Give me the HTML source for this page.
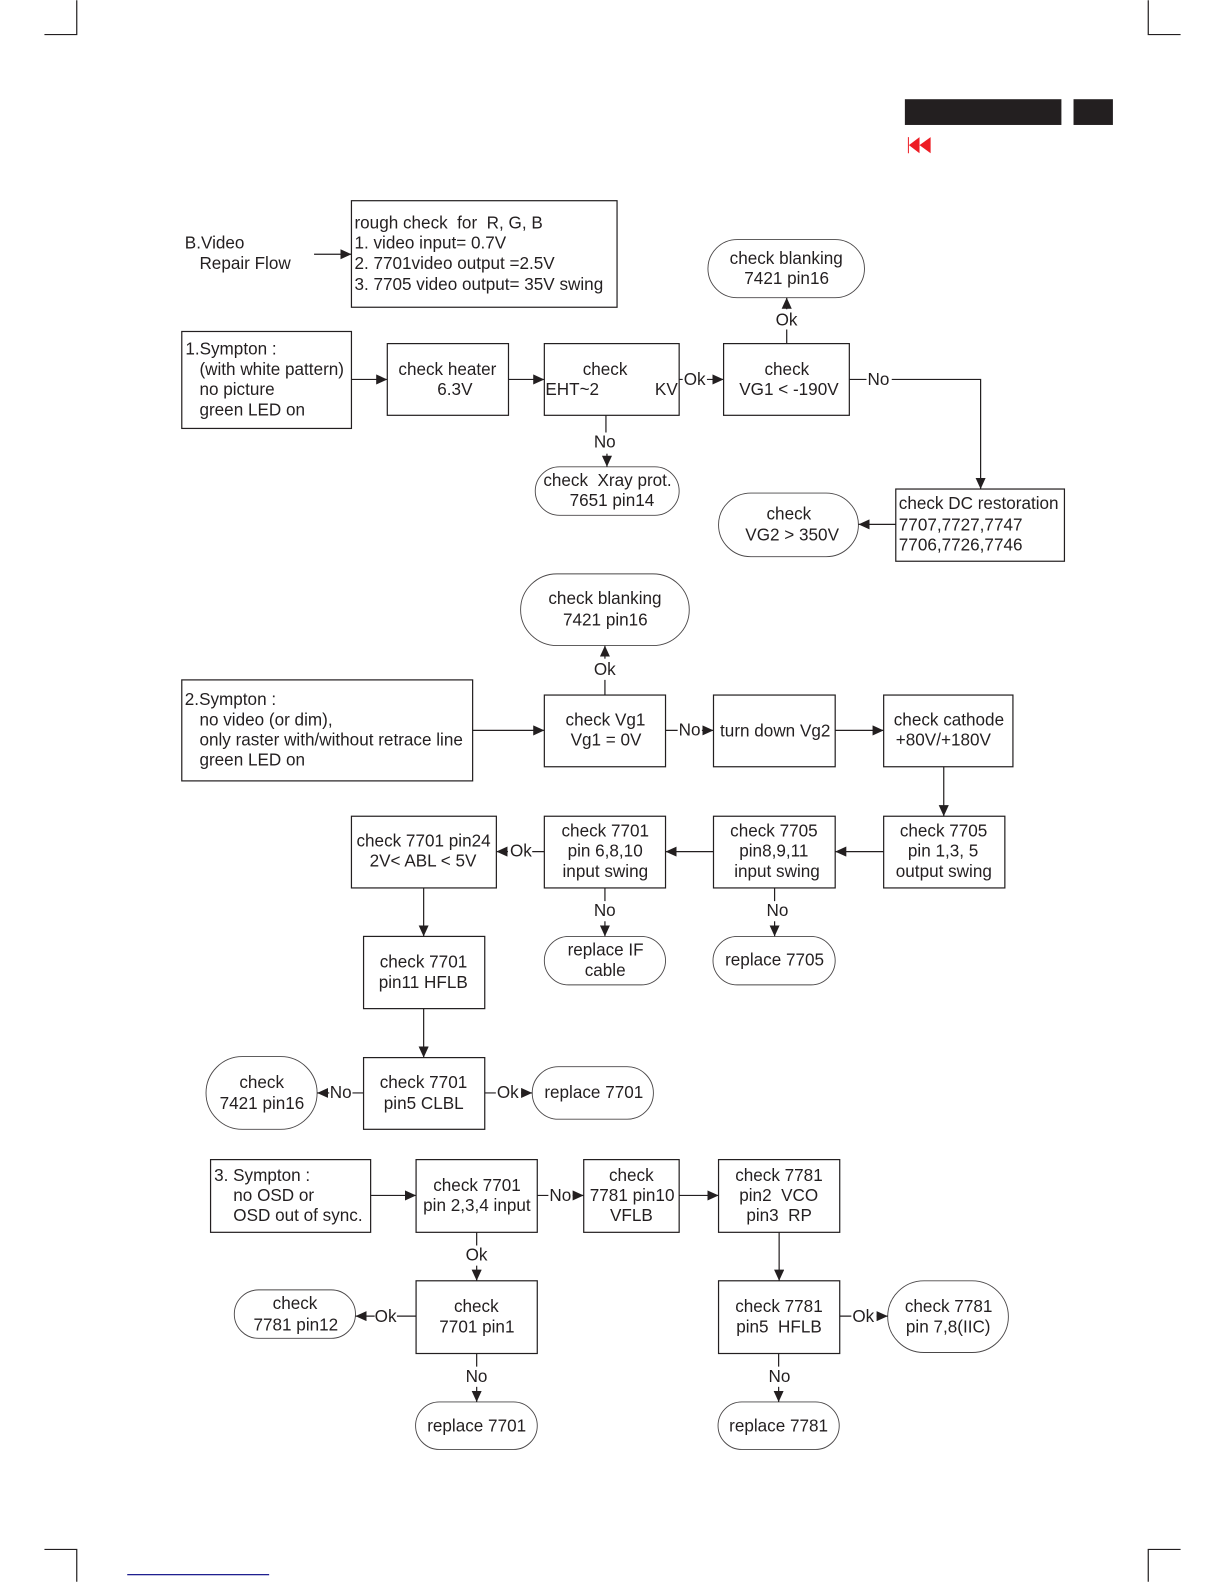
<!DOCTYPE html>
<html><head><meta charset="utf-8"><title>B.Video Repair Flow</title>
<style>
html,body{margin:0;padding:0;background:#fff;width:1224px;height:1584px;overflow:hidden}
svg{display:block}
text{font-family:"Liberation Sans",sans-serif;font-size:16.95px;fill:#231f20;white-space:pre}
.b{fill:#fff;stroke:#231f20;stroke-width:1.2}
.r{fill:#fff;stroke:#4a4748;stroke-width:.9}
.l{fill:none;stroke:#231f20;stroke-width:1.2}
</style></head><body>
<svg xmlns="http://www.w3.org/2000/svg" width="1224" height="1584" viewBox="0 0 1212 1568">
<defs><marker id="a" markerUnits="userSpaceOnUse" markerWidth="11" markerHeight="10" refX="11" refY="5" orient="auto"><path d="M0,0L11,5L0,10z" fill="#231f20"/></marker></defs>
<rect width="1212" height="1568" fill="#fff"/>
<!-- crop marks -->
<path class="l" d="M44,34H76V0M1137,0V34H1169M44,1534H76V1566M1169,1534H1137V1566"/>
<rect x="896" y="98" width="155" height="25.5" fill="#231f20"/>
<rect x="1063" y="98" width="39" height="25.5" fill="#231f20"/>
<path d="M899,135.500h1v16h-1zM900,143.500L910.500,135.500V151.500zM910.500,143.500L921.500,135.500V151.500z" fill="#ed1c24"/>
<path d="M126,1559H266.500" stroke="#000080" stroke-width="1.2" fill="none"/>

<!-- boxes -->
<rect class="b" x="348" y="198.500" width="263" height="105.500"/>
<rect class="b" x="180" y="328" width="168" height="96"/>
<rect class="b" x="383.500" y="340" width="120" height="71"/>
<rect class="b" x="539" y="340" width="133.500" height="71"/>
<rect class="b" x="716.500" y="340" width="124.500" height="71"/>
<rect class="b" x="887" y="484" width="167" height="71.500"/>
<rect class="b" x="180" y="673" width="288" height="100"/>
<rect class="b" x="539" y="688" width="120" height="71"/>
<rect class="b" x="706.500" y="688" width="120.500" height="71"/>
<rect class="b" x="875" y="688" width="128" height="71"/>
<rect class="b" x="875" y="808" width="120" height="71"/>
<rect class="b" x="706.500" y="808" width="120.500" height="71"/>
<rect class="b" x="539" y="808" width="120" height="71"/>
<rect class="b" x="348" y="808" width="143.500" height="71"/>
<rect class="b" x="360" y="927" width="120" height="71.500"/>
<rect class="b" x="360" y="1047" width="120" height="71"/>
<rect class="b" x="208.500" y="1148" width="158.500" height="72"/>
<rect class="b" x="412" y="1148" width="120" height="72"/>
<rect class="b" x="578" y="1148" width="94.500" height="72"/>
<rect class="b" x="711.500" y="1148" width="120" height="72"/>
<rect class="b" x="412" y="1268" width="120" height="72"/>
<rect class="b" x="711.500" y="1268" width="120" height="72"/>
<!-- rounded -->
<rect class="r" x="701" y="237" width="155" height="57.500" rx="29" ry="29"/>
<rect class="r" x="530" y="462" width="142.500" height="48" rx="24" ry="24"/>
<rect class="r" x="711.500" y="488" width="138.500" height="63" rx="32" ry="32"/>
<rect class="r" x="515.500" y="568" width="167" height="71" rx="36" ry="36"/>
<rect class="r" x="539" y="927" width="120" height="48" rx="24" ry="24"/>
<rect class="r" x="706" y="927" width="121" height="48" rx="24" ry="24"/>
<rect class="r" x="204" y="1046" width="110" height="72" rx="36" ry="36"/>
<rect class="r" x="527" y="1056" width="120" height="52" rx="26" ry="26"/>
<rect class="r" x="232" y="1277" width="120" height="48" rx="24" ry="24"/>
<rect class="r" x="879" y="1268" width="119.500" height="71" rx="36" ry="36"/>
<rect class="r" x="411.500" y="1388" width="120.500" height="47" rx="23.500" ry="23.500"/>
<rect class="r" x="711" y="1388" width="120" height="47" rx="23.500" ry="23.500"/>

<!-- connectors -->
<path class="l" marker-end="url(#a)" d="M311,251.500H348"/>
<path class="l" marker-end="url(#a)" d="M348,375.500H383.500"/>
<path class="l" marker-end="url(#a)" d="M503.500,375.500H539"/>
<path class="l" marker-end="url(#a)" d="M700,375.500H716.500"/>
<path class="l" marker-end="url(#a)" d="M779,306V294.500"/>
<path class="l" marker-end="url(#a)" d="M883,375.500H971V484"/>
<path class="l" marker-end="url(#a)" d="M601,449V462"/>
<path class="l" marker-end="url(#a)" d="M887,519H850"/>
<path class="l" marker-end="url(#a)" d="M599,652V639"/>
<path class="l" marker-end="url(#a)" d="M468,723H539"/>
<path class="l" marker-end="url(#a)" d="M695,723H706.500"/>
<path class="l" marker-end="url(#a)" d="M827,723H875"/>
<path class="l" marker-end="url(#a)" d="M934.500,759V808"/>
<path class="l" marker-end="url(#a)" d="M875,843H827"/>
<path class="l" marker-end="url(#a)" d="M706.500,843H659"/>
<path class="l" marker-end="url(#a)" d="M503,843H491.500"/>
<path class="l" marker-end="url(#a)" d="M419.500,879V927"/>
<path class="l" marker-end="url(#a)" d="M419.500,998.500V1047"/>
<path class="l" marker-end="url(#a)" d="M599,912V927"/>
<path class="l" marker-end="url(#a)" d="M767,912V927"/>
<path class="l" marker-end="url(#a)" d="M326,1082H314"/>
<path class="l" marker-end="url(#a)" d="M516,1082H527"/>
<path class="l" marker-end="url(#a)" d="M367,1183.500H412"/>
<path class="l" marker-end="url(#a)" d="M567,1183.500H578"/>
<path class="l" marker-end="url(#a)" d="M672.500,1183.500H711.500"/>
<path class="l" marker-end="url(#a)" d="M472,1253V1268"/>
<path class="l" marker-end="url(#a)" d="M771.500,1220V1268"/>
<path class="l" marker-end="url(#a)" d="M371,1303H352"/>
<path class="l" marker-end="url(#a)" d="M472,1373V1388"/>
<path class="l" marker-end="url(#a)" d="M771,1373V1388"/>
<path class="l" marker-end="url(#a)" d="M868,1303H879"/>
<path class="l" d="M672.500,375.500H676M779,340V326M841,375.500H858M600,411V428M599,688V673M659,723H671M539,843H527M599,879V892M767,879V892M360,1082H349M480,1082H491M532,1183.500H543M472,1220V1233M412,1303H393M472,1340V1353M771,1340V1353M831.500,1303H843"/>

<!-- text -->
<text x="183" y="246">B.Video</text><text x="197.500" y="266">Repair Flow</text>
<text x="351" y="226">rough check  for  R, G, B</text>
<text x="351" y="246">1. video input= 0.7V</text>
<text x="351" y="266">2. 7701video output =2.5V</text>
<text x="351" y="287">3. 7705 video output= 35V swing</text>
<text x="183.500" y="351">1.Sympton :</text>
<text x="197.500" y="371">(with white pattern)</text>
<text x="197.500" y="391">no picture</text>
<text x="197.500" y="411">green LED on</text>
<text x="394.500" y="371">check heater</text><text x="433" y="391">6.3V</text>
<text x="577" y="371">check</text><text x="540" y="391">EHT~2</text><text x="648.500" y="391">KV</text>
<text x="677" y="381">Ok</text>
<text x="757" y="371">check</text><text x="732" y="391">VG1 &lt; -190V</text>
<text x="722.500" y="261">check blanking</text><text x="737" y="281">7421 pin16</text>
<text x="768" y="322">Ok</text><text x="859" y="381">No</text><text x="588" y="443">No</text>
<text x="538" y="481">check  Xray prot.</text><text x="564" y="501">7651 pin14</text>
<text x="890" y="504">check DC restoration</text><text x="890" y="525">7707,7727,7747</text><text x="890" y="545">7706,7726,7746</text>
<text x="759" y="514">check</text><text x="738" y="535">VG2 &gt; 350V</text>
<text x="543" y="598">check blanking</text><text x="557.500" y="619">7421 pin16</text>
<text x="588" y="668">Ok</text>
<text x="183" y="698">2.Sympton :</text>
<text x="197.500" y="718">no video (or dim),</text>
<text x="197.500" y="738">only raster with/without retrace line</text>
<text x="197.500" y="758">green LED on</text>
<text x="560" y="718">check Vg1</text><text x="565" y="738">Vg1 = 0V</text>
<text x="672" y="728">No</text>
<text x="713" y="729">turn down Vg2</text>
<text x="885" y="718">check cathode</text><text x="887" y="738">+80V/+180V</text>
<text x="891" y="828">check 7705</text><text x="899" y="848">pin 1,3, 5</text><text x="887" y="868">output swing</text>
<text x="723" y="828">check 7705</text><text x="732" y="848">pin8,9,11</text><text x="727" y="868">input swing</text>
<text x="556" y="828">check 7701</text><text x="562" y="848">pin 6,8,10</text><text x="557" y="868">input swing</text>
<text x="353" y="838">check 7701 pin24</text><text x="366" y="858">2V&lt; ABL &lt; 5V</text>
<text x="505" y="848">Ok</text><text x="588" y="907">No</text><text x="759" y="907">No</text>
<text x="562" y="946">replace IF</text><text x="579" y="966">cable</text>
<text x="718" y="956">replace 7705</text>
<text x="376" y="958">check 7701</text><text x="375" y="978">pin11 HFLB</text>
<text x="376" y="1077">check 7701</text><text x="380" y="1098">pin5 CLBL</text>
<text x="237" y="1077">check</text><text x="217.500" y="1098">7421 pin16</text>
<text x="326.500" y="1087">No</text><text x="492" y="1087">Ok</text><text x="539" y="1087">replace 7701</text>
<text x="212" y="1169">3. Sympton :</text><text x="231" y="1189">no OSD or</text><text x="231" y="1209">OSD out of sync.</text>
<text x="429" y="1179">check 7701</text><text x="419" y="1199">pin 2,3,4 input</text>
<text x="544" y="1189">No</text>
<text x="603" y="1169">check</text><text x="584" y="1189">7781 pin10</text><text x="604" y="1209">VFLB</text>
<text x="728" y="1169">check 7781</text><text x="732" y="1189">pin2  VCO</text><text x="739" y="1209">pin3  RP</text>
<text x="461" y="1248">Ok</text>
<text x="449.500" y="1299">check</text><text x="435" y="1319">7701 pin1</text>
<text x="728" y="1299">check 7781</text><text x="729" y="1319">pin5  HFLB</text>
<text x="270" y="1296">check</text><text x="251" y="1317">7781 pin12</text>
<text x="371" y="1309">Ok</text><text x="844" y="1309">Ok</text>
<text x="896" y="1299">check 7781</text><text x="897" y="1319">pin 7,8(IIC)</text>
<text x="461" y="1368">No</text><text x="761" y="1368">No</text>
<text x="423" y="1417">replace 7701</text><text x="722" y="1417">replace 7781</text>
</svg>
</body></html>
